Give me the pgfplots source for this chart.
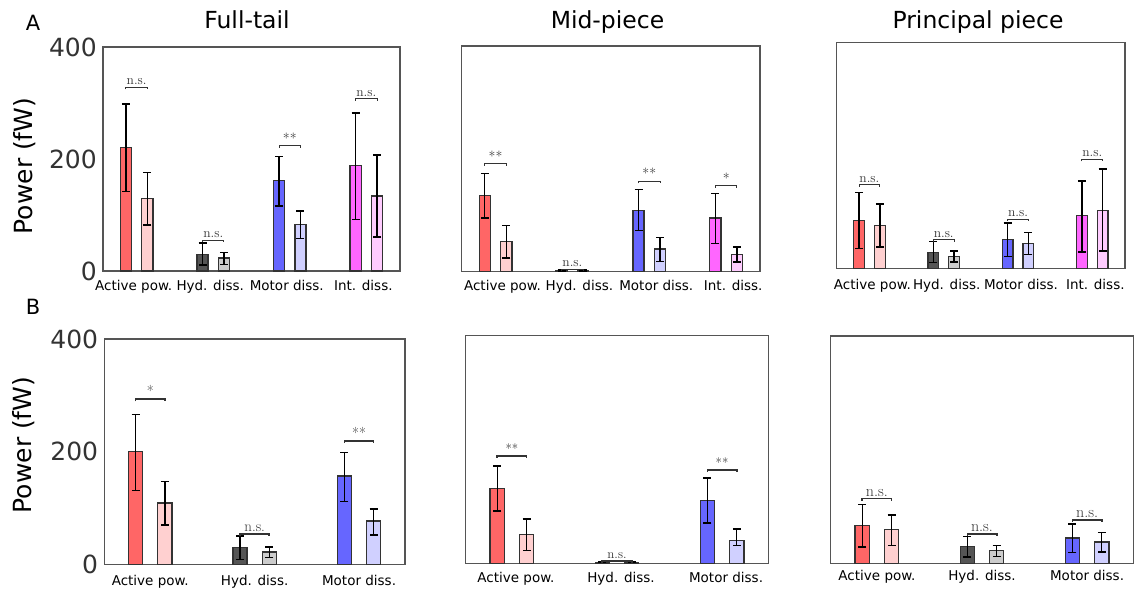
\documentclass[border=0pt]{standalone}
\usepackage{fontspec}
\setsansfont{DejaVu Sans}
\newfontfamily\lmr{Latin Modern Roman}
\usepackage{pgfplots}
\pgfplotsset{compat=1.18}
\definecolor{rD}{HTML}{FF6666}
\definecolor{rL}{HTML}{FFD0D0}
\definecolor{kD}{HTML}{555555}
\definecolor{kL}{HTML}{CCCCCC}
\definecolor{bD}{HTML}{6666FF}
\definecolor{bL}{HTML}{D0D0FF}
\definecolor{mD}{HTML}{FF66FF}
\definecolor{mL}{HTML}{FFCCFF}
\definecolor{frm}{HTML}{555555}
\definecolor{txt}{HTML}{333333}
\pgfplotsset{
  panel/.style={
    scale only axis, anchor=south west,
    ymin=0, ymax=400,
    axis line style={frm, line width=1.2pt},
    major tick length=0pt,
    ytick=\empty,
    xtick={0,1,2,3},
    xticklabel style={font=\sffamily\fontsize{13.5}{16}\selectfont, anchor=base, text=black},
    yticklabel style={font=\sffamily\fontsize{25}{25}\selectfont, text=txt, anchor=east, inner sep=0pt, xshift=-6pt},
    clip=false,
  },
  br/.style={ybar, bar shift=0pt, draw=txt, line width=1.3pt, fill=#1,
    error bars/y dir=both, error bars/y explicit,
    error bars/error bar style={black, line width=1.4pt},
    error bars/error mark options={rotate=90, mark size=4pt, line width=1.4pt, black}},
}
\def\sigw{1pt}
\newcommand{\sig}[5]{%
  \draw[txt, line width=\sigw] ([yshift=-2pt]axis cs:#1,#3) -- (axis cs:#1,#3) -- node[pos=0.5, anchor=base, yshift=2.5pt, inner sep=0pt, font=\lmr\fontsize{#5}{#5}\selectfont, text=txt]{#4} (axis cs:#2,#3) -- ([yshift=-2pt]axis cs:#2,#3);
}
\begin{document}
\begin{tikzpicture}
\useasboundingbox (0,0) rectangle (1138pt,590pt);
\node[font=\sffamily\fontsize{21}{21}\selectfont] at (33pt,567pt) {A};
\node[font=\sffamily\fontsize{21}{21}\selectfont] at (33pt,283pt) {B};
\node[anchor=base, font=\sffamily\fontsize{23.5}{24}\selectfont] at (247pt,561pt) {Full-tail};
\node[anchor=base, font=\sffamily\fontsize{23.5}{24}\selectfont] at (607.5pt,561pt) {Mid-piece};
\node[anchor=base, font=\sffamily\fontsize{23.5}{24}\selectfont] at (978pt,561pt) {Principal piece};
\node[rotate=90, font=\sffamily\fontsize{25}{25}\selectfont] at (25pt,424pt) {Power (fW)};
\node[rotate=90, font=\sffamily\fontsize{25}{25}\selectfont] at (24pt,145pt) {Power (fW)};

% ---------- A1 Full-tail
\begin{axis}[panel, at={(103pt,319pt)}, width=297pt, height=224pt, xmin=-0.44, xmax=3.44,
  bar width=0.145,
  xticklabels={Active pow., Hyd. diss., Motor diss., Int. diss.},
  xticklabel style={yshift=-19pt, xshift=-3pt},
  ytick={0,200,400}, yticklabels={0,200,400}]
\addplot[br=rD] coordinates {(-0.14,220) += (0,78) -= (0,78)};
\addplot[br=rL] coordinates {(0.14,129) += (0,47) -= (0,47)};
\addplot[br=kD] coordinates {(0.86,30) += (0,20) -= (0,19)};
\addplot[br=kL] coordinates {(1.14,23) += (0,10) -= (0,11)};
\addplot[br=bD] coordinates {(1.86,161) += (0,43) -= (0,45)};
\addplot[br=bL] coordinates {(2.14,83) += (0,24) -= (0,25)};
\addplot[br=mD] coordinates {(2.86,188) += (0,94) -= (0,96)};
\addplot[br=mL] coordinates {(3.14,134) += (0,73) -= (0,73)};
\sig{-0.14}{0.14}{328}{n.s.}{13.5}
\sig{0.86}{1.14}{55}{n.s.}{13.5}
\sig{1.86}{2.14}{224}{**}{14}
\sig{2.86}{3.14}{308}{n.s.}{13.5}
\end{axis}

% ---------- A2 Mid-piece
\begin{axis}[panel, at={(461.7pt,318.3pt)}, width=298.3pt, height=225.7pt, xmin=-0.44, xmax=3.44,
  bar width=0.145,
  xticklabels={Active pow., Hyd. diss., Motor diss., Int. diss.},
  xticklabel style={yshift=-18.3pt, xshift=7pt}]
\addplot[br=rD] coordinates {(-0.14,135) += (0,39) -= (0,40)};
\addplot[br=rL] coordinates {(0.14,53) += (0,29) -= (0,29)};
\addplot[br=kD] coordinates {(0.86,2) += (0,1) -= (0,1)};
\addplot[br=kL] coordinates {(1.14,2) += (0,1) -= (0,1)};
\addplot[br=bD] coordinates {(1.86,109) += (0,37) -= (0,36)};
\addplot[br=bL] coordinates {(2.14,40) += (0,21) -= (0,22)};
\addplot[br=mD] coordinates {(2.86,95) += (0,44) -= (0,45)};
\addplot[br=mL] coordinates {(3.14,31) += (0,13) -= (0,14)};
\sig{-0.14}{0.14}{191}{**}{14}
\sig{0.86}{1.14}{4}{n.s.}{13.5}
\sig{1.86}{2.14}{160}{**}{14}
\sig{2.86}{3.14}{152}{*}{14}
\end{axis}

% ---------- A3 Principal piece
\begin{axis}[panel, at={(836.7pt,321.7pt)}, width=288.3pt, height=225.6pt, xmin=-0.44, xmax=3.44,
  bar width=0.145,
  xticklabels={Active pow., Hyd. diss., Motor diss., Int. diss.},
  xticklabel style={yshift=-21pt, xshift=3pt}]
\addplot[br=rD] coordinates {(-0.14,85) += (0,49) -= (0,50)};
\addplot[br=rL] coordinates {(0.14,76) += (0,38) -= (0,38)};
\addplot[br=kD] coordinates {(0.86,28) += (0,19) -= (0,18)};
\addplot[br=kL] coordinates {(1.14,21) += (0,10) -= (0,10)};
\addplot[br=bD] coordinates {(1.86,51) += (0,29) -= (0,30)};
\addplot[br=bL] coordinates {(2.14,44) += (0,20) -= (0,20)};
\addplot[br=mD] coordinates {(2.86,93) += (0,62) -= (0,64)};
\addplot[br=mL] coordinates {(3.14,103) += (0,73) -= (0,72)};
\sig{-0.14}{0.14}{148}{n.s.}{13.5}
\sig{0.86}{1.14}{51}{n.s.}{13.5}
\sig{1.86}{2.14}{87}{n.s.}{13.5}
\sig{2.86}{3.14}{193}{n.s.}{13.5}
\end{axis}

\def\sigw{1.6pt}
% ---------- B1 Full-tail
\begin{axis}[panel, at={(104.3pt,25.7pt)}, width=300.7pt, height=225.3pt, xmin=-0.44, xmax=2.44,
  bar width=0.135,
  xticklabels={Active pow., Hyd. diss., Motor diss.},
  xticklabel style={yshift=-21.4pt},
  ytick={0,200,400}, yticklabels={0,200,400}]
\addplot[br=rD] coordinates {(-0.14,200) += (0,66) -= (0,69)};
\addplot[br=rL] coordinates {(0.14,109) += (0,38) -= (0,39)};
\addplot[br=kD] coordinates {(0.86,29.5) += (0,20.5) -= (0,20.5)};
\addplot[br=kL] coordinates {(1.14,22) += (0,9) -= (0,10)};
\addplot[br=bD] coordinates {(1.86,157) += (0,42) -= (0,46)};
\addplot[br=bL] coordinates {(2.14,77) += (0,21) -= (0,25)};
\sig{-0.14}{0.14}{293}{*}{15}
\sig{0.86}{1.14}{54}{n.s.}{15}
\sig{1.86}{2.14}{219}{**}{15}
\end{axis}

% ---------- B2 Mid-piece
\begin{axis}[panel, at={(465.7pt,26.7pt)}, width=302.6pt, height=227.6pt, xmin=-0.44, xmax=2.44,
  bar width=0.135,
  xticklabels={Active pow., Hyd. diss., Motor diss.},
  xticklabel style={yshift=-19.4pt, xshift=4pt}]
\addplot[br=rD] coordinates {(-0.14,132) += (0,39) -= (0,40)};
\addplot[br=rL] coordinates {(0.14,51) += (0,27) -= (0,29)};
\addplot[br=kD] coordinates {(0.86,2) += (0,1) -= (0,1)};
\addplot[br=kL] coordinates {(1.14,2) += (0,1) -= (0,1)};
\addplot[br=bD] coordinates {(1.86,110) += (0,40) -= (0,39)};
\addplot[br=bL] coordinates {(2.14,40) += (0,20) -= (0,9)};
\sig{-0.14}{0.14}{189}{**}{13}
\sig{0.86}{1.14}{4}{n.s.}{13}
\sig{1.86}{2.14}{164}{**}{13}
\end{axis}

% ---------- B3 Principal piece
\begin{axis}[panel, at={(830.7pt,26.7pt)}, width=302.6pt, height=227.3pt, xmin=-0.44, xmax=2.44,
  bar width=0.135,
  xticklabels={Active pow., Hyd. diss., Motor diss.},
  xticklabel style={yshift=-16.7pt}]
\addplot[br=rD] coordinates {(-0.14,67) += (0,37) -= (0,38)};
\addplot[br=rL] coordinates {(0.14,59) += (0,26) -= (0,28)};
\addplot[br=kD] coordinates {(0.86,29) += (0,18) -= (0,18)};
\addplot[br=kL] coordinates {(1.14,22) += (0,9) -= (0,10)};
\addplot[br=bD] coordinates {(1.86,44.5) += (0,24.5) -= (0,25.5)};
\addplot[br=bL] coordinates {(2.14,37.5) += (0,16.5) -= (0,17.5)};
\sig{-0.14}{0.14}{114}{n.s.}{16}
\sig{0.86}{1.14}{52}{n.s.}{16}
\sig{1.86}{2.14}{76}{n.s.}{16}
\end{axis}
\end{tikzpicture}
\end{document}
